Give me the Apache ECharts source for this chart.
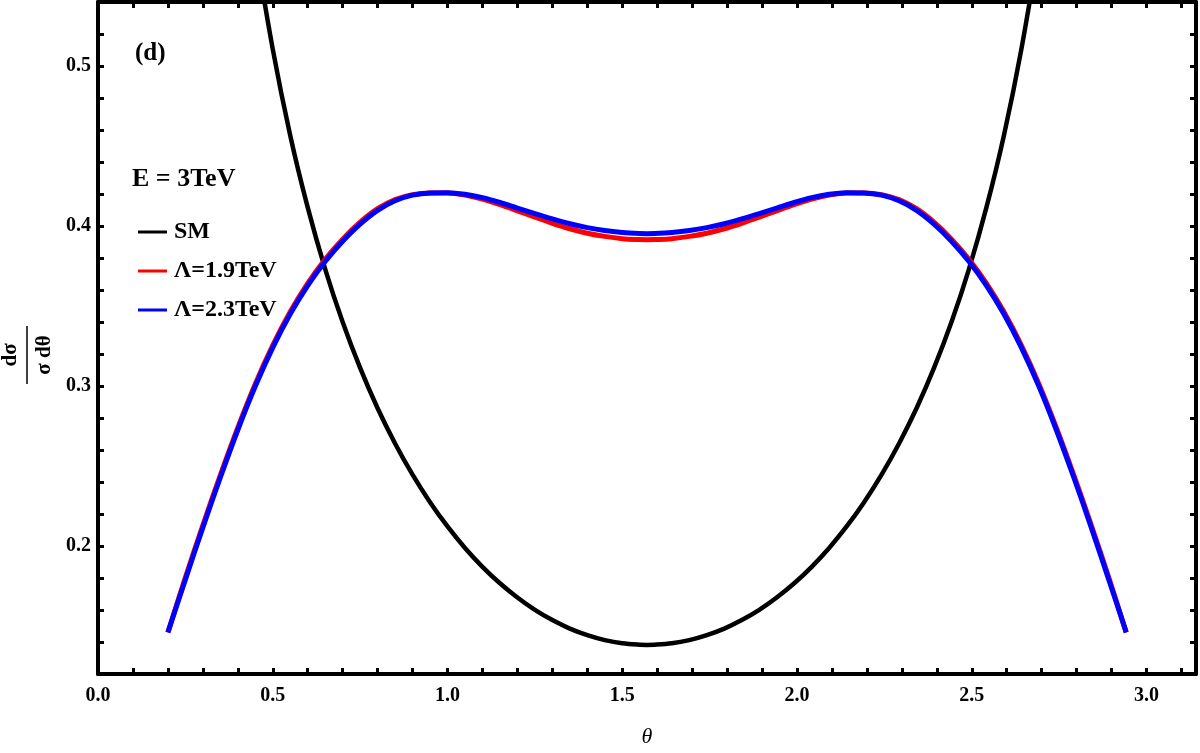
<!DOCTYPE html>
<html>
<head>
<meta charset="utf-8">
<title>(d) E = 3TeV</title>
<script src="https://cdn.jsdelivr.net/npm/echarts@6/dist/echarts.min.js"></script>
<style>
  html, body { margin: 0; padding: 0; background: #fff; overflow: hidden; }
  #chart { width: 1200px; height: 753px; }
</style>
</head>
<body>
<div id="chart"></div>
<script>
// theta grid for the two Lambda curves
const thetaNP = [
  0.20, 0.25, 0.30, 0.35, 0.40, 0.45, 0.50, 0.55, 0.60, 0.65, 0.70, 0.75, 0.80, 0.85,
  0.90, 0.95, 1.00, 1.05, 1.10, 1.15, 1.20, 1.25, 1.30, 1.35, 1.40, 1.45, 1.50, 1.55,
  1.571,
  1.592, 1.642, 1.692, 1.742, 1.792, 1.842, 1.892, 1.942, 1.992, 2.042, 2.092, 2.142,
  2.192, 2.242, 2.292, 2.342, 2.392, 2.442, 2.492, 2.542, 2.592, 2.642, 2.692, 2.742,
  2.792, 2.842, 2.892, 2.942
];
const lam23 = [
  0.146, 0.179, 0.2115, 0.2428, 0.2725, 0.2998, 0.3240, 0.3450, 0.3628, 0.3778, 0.3905, 0.4012, 0.4098, 0.4158,
  0.4193, 0.4207, 0.4208, 0.4198, 0.4177, 0.4147, 0.4112, 0.4077, 0.4044, 0.4014, 0.3990, 0.3972, 0.3960, 0.3953,
  0.3952,
  0.3953, 0.3960, 0.3972, 0.3990, 0.4014, 0.4044, 0.4077, 0.4112, 0.4147, 0.4177, 0.4198, 0.4208,
  0.4207, 0.4193, 0.4158, 0.4098, 0.4012, 0.3905, 0.3778, 0.3628, 0.3450, 0.3240, 0.2998, 0.2725,
  0.2428, 0.2115, 0.179, 0.146
];
const lam19 = [
  0.146, 0.1803, 0.2130, 0.2443, 0.2740, 0.3013, 0.3254, 0.3464, 0.3642, 0.3792, 0.3918, 0.4024, 0.4108, 0.4165,
  0.4196, 0.4207, 0.4206, 0.4193, 0.4168, 0.4134, 0.4095, 0.4055, 0.4017, 0.3983, 0.3955, 0.3935, 0.3921, 0.3915,
  0.3914,
  0.3915, 0.3921, 0.3935, 0.3955, 0.3983, 0.4017, 0.4055, 0.4095, 0.4134, 0.4168, 0.4193, 0.4206,
  0.4207, 0.4196, 0.4165, 0.4108, 0.4024, 0.3918, 0.3792, 0.3642, 0.3464, 0.3254, 0.3013, 0.2740,
  0.2443, 0.2130, 0.1803, 0.146
];

// SM curve (leaves the frame at the top)
const thetaSM = [
  0.45, 0.50, 0.55, 0.60, 0.65, 0.70, 0.75, 0.80, 0.85, 0.90, 0.95, 1.00, 1.05,
  1.10, 1.15, 1.20, 1.25, 1.30, 1.35, 1.40, 1.45, 1.50, 1.55,
  1.571,
  1.592, 1.642, 1.692, 1.742, 1.792, 1.842, 1.892, 1.942, 1.992, 2.042, 2.092, 2.142,
  2.192, 2.242, 2.292, 2.342, 2.392, 2.442, 2.492, 2.542, 2.592, 2.642, 2.692
];
const smVals = [
  0.5750, 0.5106, 0.4566, 0.4116, 0.3731, 0.3400, 0.3113, 0.2861, 0.2641, 0.2446, 0.2274, 0.2122, 0.1988,
  0.1870, 0.1767, 0.1678, 0.1601, 0.1537, 0.1484, 0.1443, 0.1412, 0.1392, 0.1383,
  0.1382,
  0.1383, 0.1392, 0.1412, 0.1443, 0.1484, 0.1537, 0.1601, 0.1678, 0.1767, 0.1870, 0.1988, 0.2122,
  0.2274, 0.2446, 0.2641, 0.2861, 0.3113, 0.3400, 0.3731, 0.4116, 0.4566, 0.5106, 0.5750
];

const seriesNames = ['SM', '\u039b=1.9TeV', '\u039b=2.3TeV'];

const pairs = (xs, ys) => xs.map((x, i) => [x, ys[i]]);

const serif = '"Liberation Serif", "Times New Roman", serif';

const tickStyle = { show: true, inside: true, length: 6, lineStyle: { color: '#000', width: 3 } };
const frameLine = { show: true, onZero: false, lineStyle: { color: '#000', width: 4 } };

const chart = echarts.init(document.getElementById('chart'));

const option = {
  animation: false,
  backgroundColor: '#fff',
  grid: { left: 98, right: 4, top: 2, height: 679, containLabel: false },
  legend: {
    data: seriesNames,
    orient: 'vertical',
    left: 133,
    top: 215,
    icon: 'rect',
    itemWidth: 29,
    itemHeight: 3,
    itemGap: 15,
    selectedMode: false,
    textStyle: {
      fontFamily: serif, fontWeight: 'bold', fontSize: 24, color: '#000',
      padding: [0, 0, 0, 2]
    }
  },
  xAxis: [
    {
      type: 'value',
      min: 0,
      max: Math.PI,
      interval: 0.1,
      name: '\u03b8',
      nameLocation: 'middle',
      nameGap: 52,
      nameTextStyle: { fontFamily: serif, fontStyle: 'italic', fontSize: 22, color: '#000' },
      axisLine: frameLine,
      axisTick: tickStyle,
      splitLine: { show: false },
      axisLabel: {
        margin: 12,
        fontFamily: serif, fontWeight: 'bold', fontSize: 20, color: '#000',
        showMaxLabel: false,
        formatter: (v) => {
          const r = Math.round(v * 10);
          return (r % 5 === 0 && Math.abs(v - r / 10) < 1e-6) ? (r / 10).toFixed(1) : '';
        }
      }
    },
    {
      type: 'value',
      position: 'top',
      min: 0,
      max: Math.PI,
      interval: 0.1,
      axisLine: frameLine,
      axisTick: tickStyle,
      axisLabel: { show: false },
      splitLine: { show: false }
    }
  ],
  yAxis: [
    {
      type: 'value',
      min: 0.12,
      max: 0.54,
      interval: 0.02,
      axisLine: frameLine,
      axisTick: tickStyle,
      splitLine: { show: false },
      axisLabel: {
        margin: 7,
        fontFamily: serif, fontWeight: 'bold', fontSize: 20, color: '#000',
        formatter: (v) => {
          const r = Math.round(v * 100);
          return r % 10 === 0 ? (r / 100).toFixed(1) : '';
        }
      }
    },
    {
      type: 'value',
      position: 'right',
      min: 0.12,
      max: 0.54,
      interval: 0.02,
      axisLine: frameLine,
      axisTick: tickStyle,
      axisLabel: { show: false },
      splitLine: { show: false }
    }
  ],
  series: [
    {
      name: seriesNames[0],
      type: 'line',
      data: pairs(thetaSM, smVals),
      smooth: 0.35,
      showSymbol: false,
      clip: true,
      color: '#000',
      lineStyle: { color: '#000', width: 4.5 }
    },
    {
      name: seriesNames[1],
      type: 'line',
      data: pairs(thetaNP, lam19),
      smooth: 0.35,
      showSymbol: false,
      color: '#ff0000',
      lineStyle: { color: '#ff0000', width: 5 }
    },
    {
      name: seriesNames[2],
      type: 'line',
      data: pairs(thetaNP, lam23),
      smooth: 0.35,
      showSymbol: false,
      color: '#0000ff',
      lineStyle: { color: '#0000ff', width: 5 }
    }
  ],
  graphic: [
    {
      type: 'text', left: 135, top: 41,
      style: { text: '(d)', font: 'bold 25px ' + serif, fill: '#000' }
    },
    {
      type: 'text', left: 132, top: 166,
      style: { text: 'E = 3TeV', font: 'bold 26px ' + serif, fill: '#000' }
    },
    {
      // y axis title: d sigma over sigma d theta, turned a quarter
      type: 'group',
      x: 27, y: 355,
      rotation: Math.PI / 2,
      children: [
        {
          type: 'text', x: 0, y: -16,
          style: { text: 'd\u03c3', font: 'bold 21px ' + serif, fill: '#000', align: 'center', verticalAlign: 'middle' }
        },
        {
          type: 'line',
          shape: { x1: -29, y1: 0, x2: 29, y2: 0 },
          style: { stroke: '#000', lineWidth: 1.5 }
        },
        {
          type: 'text', x: 0, y: 18,
          style: { text: '\u03c3 d\u03b8', font: 'bold 21px ' + serif, fill: '#000', align: 'center', verticalAlign: 'middle' }
        }
      ]
    }
  ]
};

chart.setOption(option);
</script>
</body>
</html>
